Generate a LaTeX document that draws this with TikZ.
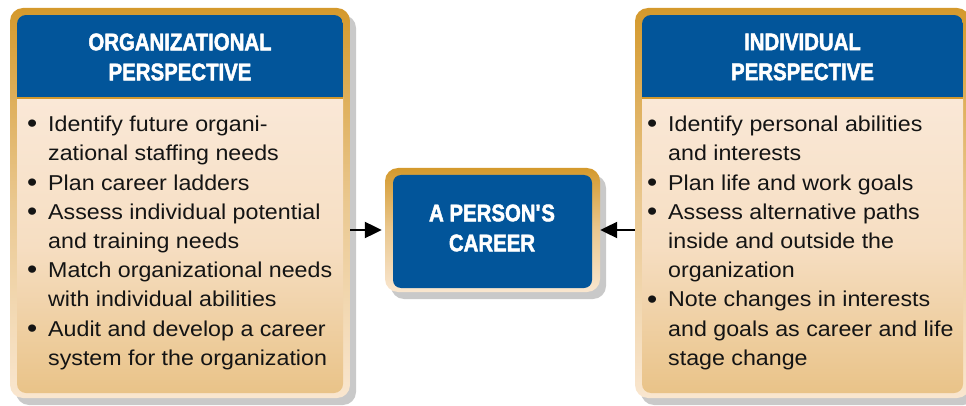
\documentclass[tikz,border=0pt]{standalone}
\usepackage{fontspec}
\setmainfont{Liberation Sans}[FakeStretch=1.08]
\newfontfamily\headfont{Liberation Sans Bold}[FakeStretch=0.85,FakeBold=2]
\usetikzlibrary{positioning,arrows.meta,shadows}
\definecolor{hdblue}{HTML}{02559A}
\definecolor{framegold}{HTML}{D4992C}
\definecolor{framemid}{HTML}{EAC890}
\definecolor{framelight}{HTML}{F9E6CF}
\definecolor{bodytop}{HTML}{FAE8D7}
\definecolor{bodymid}{HTML}{F6DEC2}
\definecolor{bodybot}{HTML}{E9C388}
\definecolor{shadowgray}{HTML}{C9C9C9}
\newcommand{\bul}{\makebox[21pt][l]{\raisebox{-0.1ex}{\scalebox{1.25}{\textbullet}}}}
\newcommand{\ind}{\hspace*{21pt}}

\begin{document}
\begin{tikzpicture}[x=1pt,y=-1pt,
	panel/.style={rectangle, rounded corners=13pt, inner sep=0pt,%
		top color=framegold, bottom color=framelight, middle color=framemid,%
		general shadow={fill=shadowgray, shadow xshift=6pt, shadow yshift=-7pt}},
	hdtext/.style={text=white, align=center, inner sep=0pt,%
		font=\headfont\fontsize{24}{30}\selectfont},
	listtext/.style={anchor=north west, align=left, inner sep=0pt, text=black!92,%
		font=\fontsize{21.5}{29.2}\selectfont},
	bodyfill/.style={top color=bodytop, bottom color=bodybot, middle color=bodymid},
	flowarrow/.style={-{Triangle[length=17pt,width=16pt]}, line width=2.2pt}]
	
	\useasboundingbox (0,0) rectangle (966,406);
	
	% outer frames
	\node[panel, minimum width=340pt, minimum height=390pt] (org) at (180,203) {};
	\node[panel, minimum width=335pt, minimum height=390pt] (ind) at (802.5,203) {};
	\node[panel, minimum width=215pt, minimum height=124pt] (career) at (492.5,230) {};
	
	% organizational side
	\begin{scope}
		\clip[rounded corners=9pt] (17,15) rectangle (343,393);
		\fill[hdblue] (17,15) rectangle (343,98);
		\shade[bodyfill] (17,98) rectangle (343,393);
	\end{scope}
	\draw[framegold, line width=1.2pt] (17,98) -- (343,98);
	\node[hdtext] (orghd) at (180,57) {ORGANIZATIONAL\\PERSPECTIVE};
	\node[listtext] (orglist) at (27,116) {%
		\bul Identify future organi-\\ \ind zational staffing needs\\
		\bul Plan career ladders\\
		\bul Assess individual potential\\ \ind and training needs\\
		\bul Match organizational needs\\ \ind with individual abilities\\
		\bul Audit and develop a career\\ \ind system for the organization};
	
	% individual side
	\begin{scope}
		\clip[rounded corners=9pt] (642,15) rectangle (963,393);
		\fill[hdblue] (642,15) rectangle (963,98);
		\shade[bodyfill] (642,98) rectangle (963,393);
	\end{scope}
	\draw[framegold, line width=1.2pt] (642,98) -- (963,98);
	\node[hdtext] (indhd) at (802.5,57) {INDIVIDUAL\\PERSPECTIVE};
	\node[listtext] (indlist) at (647,116) {%
		\bul Identify personal abilities\\ \ind and interests\\
		\bul Plan life and work goals\\
		\bul Assess alternative paths\\ \ind inside and outside the\\ \ind organization\\
		\bul Note changes in interests\\ \ind and goals as career and life\\ \ind stage change};
	
	% career box
	\fill[hdblue, rounded corners=8pt] (393,175) rectangle (592,288);
	\node[hdtext] (careertxt) at (492,228) {A PERSON\textquotesingle S\\CAREER};
	
	\draw[flowarrow, shorten >=3pt] (org.east |- career.west) -- (career.west);
	\draw[flowarrow] (ind.west |- career.east) -- (career.east);
\end{tikzpicture}
\end{document}
